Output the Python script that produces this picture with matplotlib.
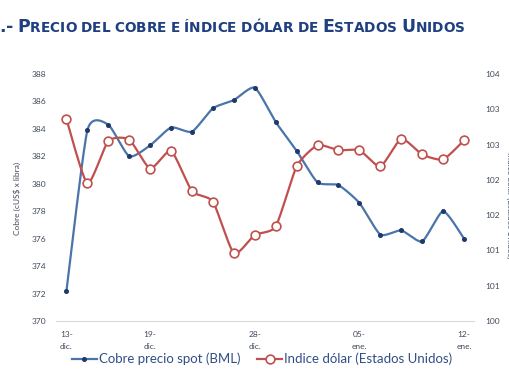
import math
import numpy as np
import matplotlib
matplotlib.use("Agg")
import matplotlib.pyplot as plt
from matplotlib.lines import Line2D
from matplotlib.offsetbox import TextArea, HPacker, AnchoredOffsetbox
from matplotlib.ticker import FuncFormatter

# data
dates = ["13-\ndic.", "", "", "", "19-\ndic.", "", "", "", "", "28-\ndic.",
         "", "", "", "", "05-\nene.", "", "", "", "", "12-\nene."]
cobre = [372.2, 383.9, 384.3, 382.0, 382.8, 384.1, 383.8, 385.5, 386.1, 387.0,
         384.5, 382.4, 380.1, 379.9, 378.6, 376.3, 376.6, 375.8, 378.0, 376.0]
dolar = [102.86, 101.95, 102.55, 102.57, 102.16, 102.41, 101.84, 101.69, 100.96, 101.22,
         101.34, 102.19, 102.49, 102.42, 102.42, 102.19, 102.58, 102.36, 102.29, 102.56]

BLUE = "#4a74aa"
BLUE_DARK = "#1f3a68"
RED = "#c0504d"
TXT = "#404a5a"


def smooth(x, y, n=20, k=10.0):
    # smoothed line: bezier with catmull-rom style control points
    x = np.asarray(x, float)
    y = np.asarray(y, float)
    px = np.concatenate([[x[0]], x, [x[-1]]])
    py = np.concatenate([[y[0]], y, [y[-1]]])
    xs, ys = [], []
    t = np.linspace(0, 1, n)
    for i in range(1, len(px) - 2):
        p0 = np.array([px[i], py[i]])
        p3 = np.array([px[i + 1], py[i + 1]])
        p1 = p0 + (np.array([px[i + 1], py[i + 1]]) - np.array([px[i - 1], py[i - 1]])) / k
        p2 = p3 - (np.array([px[i + 2], py[i + 2]]) - np.array([px[i], py[i]])) / k
        b = ((1 - t) ** 3)[:, None] * p0 + (3 * (1 - t) ** 2 * t)[:, None] * p1 \
            + (3 * (1 - t) * t ** 2)[:, None] * p2 + (t ** 3)[:, None] * p3
        xs.extend(b[:, 0])
        ys.extend(b[:, 1])
    return xs, ys


plt.rcParams['font.family'] = ['Lato', 'DejaVu Sans']

fig = plt.figure(figsize=(5.10, 3.82), dpi=100)
W, H = 510, 382
ax = fig.add_axes([56 / W, 1 - 321 / H, (474.5 - 56) / W, (321 - 74) / H])
ax2 = ax.twinx()

x = np.arange(len(cobre))

sx, sy = smooth(x, cobre)
ax.plot(sx, sy, color=BLUE, lw=1.6, solid_capstyle='round')
ax.plot(x, cobre, ls='none', marker='o', ms=2.6, color=BLUE_DARK)

sx, sy = smooth(x, dolar)
ax2.plot(sx, sy, color=RED, lw=1.6, solid_capstyle='round')
ax2.plot(x, dolar, ls='none', marker='o', ms=6.3, mfc='white', mec=RED, mew=1.2)

ax.set_xlim(-0.5, len(cobre) - 0.5)
ax.set_ylim(370, 388)
ax.set_yticks(np.arange(370, 389, 2))
ax2.set_ylim(100, 103.5)
ax2.set_yticks(np.arange(100, 103.51, 0.5))
ax2.yaxis.set_major_formatter(FuncFormatter(lambda v, p: str(int(math.floor(v + 0.5)))))

tick_idx = [i for i, d in enumerate(dates) if d]
ax.set_xticks(tick_idx)
ax.set_xticklabels([dates[i] for i in tick_idx], linespacing=1.85)

for a in (ax, ax2):
    for s in a.spines.values():
        s.set_visible(False)
    a.tick_params(length=0, labelsize=6, colors=TXT)
ax.spines['bottom'].set_visible(True)
ax.spines['bottom'].set_color("#d9d9d9")
ax.tick_params(axis='y', pad=7)
ax2.tick_params(axis='y', pad=8)
ax.tick_params(axis='x', pad=7)

fig.text(17 / W, 1 - 198 / H, "Cobre (cUS$ x libra)", rotation=90, ha='center', va='center',
         fontsize=6, color=TXT)
fig.text(506 / W, 1 - 152 / H, "Indice dólar (Estados Unidos)", rotation=270, ha='left',
         va='top', fontsize=6, color=TXT)

handles = [
    Line2D([], [], color=BLUE, lw=1.6, marker='o', ms=2.6, mfc=BLUE_DARK, mec=BLUE_DARK),
    Line2D([], [], color=RED, lw=1.6, marker='o', ms=6.3, mfc='white', mec=RED, mew=1.2),
]
leg = fig.legend(handles, ["Cobre precio spot (BML)", "Indice dólar (Estados Unidos)"],
                 loc='center', bbox_to_anchor=(262 / W, 1 - 359 / H), ncol=2, frameon=False,
                 fontsize=9.5, handlelength=1.9, handletextpad=0.15, columnspacing=1.3)
for t in leg.get_texts():
    t.set_color("#2f4f86")

# title in small caps
TITLE_C = "#1f3f80"
title = "2.- Precio del cobre e índice dólar de Estados Unidos"
parts = []
for word in title.split(" "):
    for ch in word:
        big = not ch.isalpha() or ch.isupper()
        parts.append(TextArea(ch.upper(), textprops=dict(
            fontsize=12.5 if big else 9.8, fontweight='bold', color=TITLE_C,
            family='DejaVu Sans')))
    parts.append(TextArea(" ", textprops=dict(fontsize=9, fontweight='bold', family='DejaVu Sans')))
parts = parts[:-1]
box = HPacker(children=parts, align='baseline', pad=0, sep=0)
anch = AnchoredOffsetbox(loc='center left', child=box, pad=0, borderpad=0, frameon=False,
                         bbox_to_anchor=(-13 / W, 1 - 27 / H), bbox_transform=fig.transFigure)
fig.add_artist(anch)

fig.savefig("out.png", dpi=100, facecolor='white')
